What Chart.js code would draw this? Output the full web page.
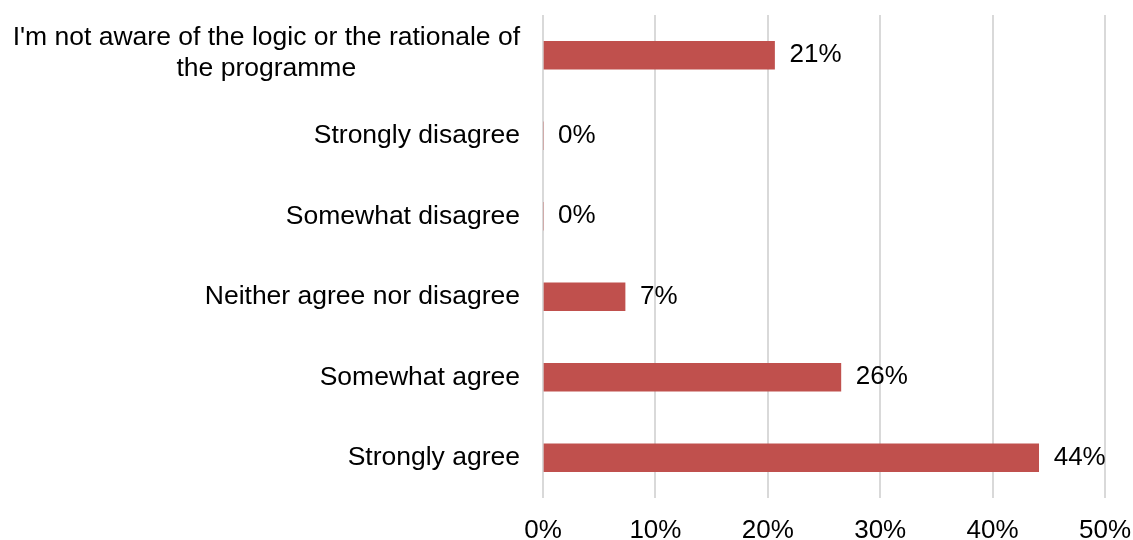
<!DOCTYPE html>
<html>
<head>
<meta charset="utf-8">
<script src="https://cdn.jsdelivr.net/npm/chart.js@4/dist/chart.umd.min.js"></script>
<style>
  html, body { margin: 0; padding: 0; background: #ffffff; }
  #wrap { width: 1133px; height: 540px; position: relative; }
</style>
</head>
<body>
<div id="wrap"><canvas id="c"></canvas></div>
<script>
const categories = [
  ["I'm not aware of the logic or the rationale of", "the programme"],
  "Strongly disagree",
  "Somewhat disagree",
  "Neither agree nor disagree",
  "Somewhat agree",
  "Strongly agree"
];
const values = [20.6, 0, 0, 7.3, 26.5, 44.1];
const valueLabels = ["21%", "0%", "0%", "7%", "26%", "44%"];
const xTickValues = [0, 10, 20, 30, 40, 50];
const xTickLabels = ["0%", "10%", "20%", "30%", "40%", "50%"];

const FONT_FAMILY = "'Liberation Sans', Arial, sans-serif";
const FONT_SIZE = 26;
const CAT_FONT_SIZE = 26.5;
const TEXT_COLOR = "#000000";

const labelsPlugin = {
  id: 'customLabels',
  afterDraw(chart) {
    const ctx = chart.ctx;
    const yScale = chart.scales.y;
    const xScale = chart.scales.x;
    ctx.save();
    ctx.fillStyle = TEXT_COLOR;
    ctx.textBaseline = 'middle';
    // category labels: block right-aligned, lines centered within block
    ctx.font = CAT_FONT_SIZE + "px " + FONT_FAMILY;
    const rightEdge = chart.chartArea.left - 23;
    const lineH = 30.7;
    categories.forEach((cat, i) => {
      const lines = Array.isArray(cat) ? cat : [cat];
      const y = yScale.getPixelForValue(i) - (lines.length > 1 ? 2 : 0);
      const widths = lines.map(l => ctx.measureText(l).width);
      const blockW = Math.max(...widths);
      const cx = rightEdge - blockW / 2;
      ctx.textAlign = 'center';
      lines.forEach((l, j) => {
        const ly = y + (j - (lines.length - 1) / 2) * lineH;
        ctx.fillText(l, cx, ly);
      });
    });
    // value labels
    ctx.font = FONT_SIZE + "px " + FONT_FAMILY;
    ctx.textAlign = 'left';
    const meta = chart.getDatasetMeta(0);
    meta.data.forEach((bar, i) => {
      const xEnd = xScale.getPixelForValue(values[i]);
      ctx.fillText(valueLabels[i], xEnd + 15, bar.y);
    });
    ctx.restore();
  }
};

new Chart(document.getElementById('c'), {
  type: 'bar',
  data: {
    labels: categories,
    datasets: [{
      data: values,
      backgroundColor: '#C0504D',
      borderWidth: 0,
      barThickness: 28
    }]
  },
  options: {
    indexAxis: 'y',
    responsive: true,
    maintainAspectRatio: false,
    animation: false,
    layout: { padding: { top: 15, right: 28, bottom: 0, left: 0 } },
    plugins: {
      legend: { display: false },
      tooltip: { enabled: false }
    },
    scales: {
      x: {
        min: 0,
        max: 50,
        afterBuildTicks(scale) {
          scale.ticks = xTickValues.map(v => ({ value: v }));
        },
        ticks: {
          callback: (v, i) => xTickLabels[i],
          font: { family: FONT_FAMILY, size: FONT_SIZE },
          color: TEXT_COLOR,
          padding: 17,
          maxRotation: 0
        },
        grid: {
          color: '#d9d9d9',
          lineWidth: 2,
          drawTicks: false
        },
        border: { display: false },
        afterFit(scale) {
          scale.height = 42;
          scale.paddingLeft = 0;
          scale.paddingRight = 0;
        }
      },
      y: {
        ticks: { display: false },
        grid: { display: false },
        border: { display: false },
        afterFit(scale) {
          scale.width = 543;
          scale.paddingTop = 0;
          scale.paddingBottom = 0;
        }
      }
    }
  },
  plugins: [labelsPlugin]
});
</script>
</body>
</html>
